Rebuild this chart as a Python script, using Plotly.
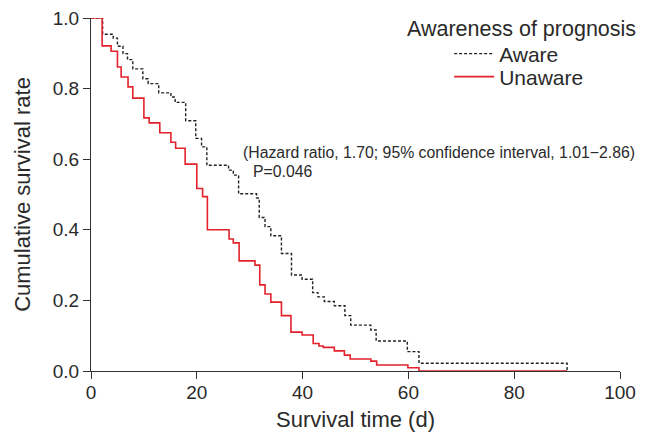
import plotly.graph_objects as go

# Kaplan-Meier step data
aware_t = [0, 2.2, 4.2, 5.0, 6.05, 6.9, 7.9, 9.8, 10.8, 12.8, 15.1, 15.9, 17.9, 19.8, 20.9, 21.9,
           26.0, 26.9, 27.9, 31.3, 31.8, 32.9, 34.0, 36.0, 37.9, 39.9, 41.9, 42.9, 44.1, 46.0,
           48.0, 49.1, 52.9, 53.9, 59.8, 62.0, 90]
aware_s = [1.0, 0.954, 0.943, 0.92, 0.899, 0.882, 0.856, 0.828, 0.814, 0.788, 0.776, 0.761, 0.709,
           0.659, 0.635, 0.583, 0.569, 0.555, 0.502, 0.49, 0.435, 0.409, 0.383, 0.333, 0.272, 0.260,
           0.222, 0.210, 0.197, 0.185, 0.157, 0.130, 0.116, 0.085, 0.055, 0.022, 0.0]

unaware_t = [0, 2.1, 3.8, 5.0, 5.7, 7.0, 7.9, 10.0, 11.0, 13.0, 15.1, 16.0, 17.8, 20.0, 21.1, 22.0,
             26.1, 26.9, 28.0, 31.0, 31.9, 32.9, 34.0, 36.0, 37.8, 39.9, 42.0, 43.1, 43.9, 46.0,
             47.9, 49.0, 52.9, 54.0, 59.9, 62.0, 90]
unaware_s = [1.0, 0.921, 0.906, 0.861, 0.833, 0.805, 0.773, 0.717, 0.703, 0.675, 0.648, 0.631, 0.586,
             0.517, 0.494, 0.40, 0.374, 0.363, 0.312, 0.300, 0.244, 0.218, 0.195, 0.157, 0.110, 0.102,
             0.078, 0.071, 0.067, 0.057, 0.045, 0.034, 0.028, 0.017, 0.009, 0.0, 0.0]

x_ticks = [0, 20, 40, 60, 80, 100]
y_ticks = [0.0, 0.2, 0.4, 0.6, 0.8, 1.0]

FONT = "Liberation Sans, Arial, sans-serif"
TXT = "#2a2a2a"

fig = go.Figure()
fig.add_trace(go.Scatter(x=aware_t, y=aware_s, mode="lines", line_shape="hv", name="Aware",
                         legend="legend",
                         line=dict(color="#222222", width=1.4, dash="3px,2px")))
fig.add_trace(go.Scatter(x=unaware_t, y=unaware_s, mode="lines", line_shape="hv", name="Unaware",
                         legend="legend2",
                         line=dict(color="#e3222b", width=1.6)))

# legend heading
fig.add_annotation(x=0.813, y=0.969, xref="paper", yref="paper", xanchor="center", yanchor="middle",
                   text="Awareness of prognosis", showarrow=False,
                   font=dict(family=FONT, size=21.5, color=TXT))

fig.add_annotation(x=0.284, y=0.620, xref="paper", yref="paper", xanchor="left", yanchor="middle",
                   text="(Hazard ratio, 1.70; 95% confidence interval, 1.01\u22122.86)",
                   showarrow=False, font=dict(family=FONT, size=15.8, color=TXT))
fig.add_annotation(x=0.302, y=0.564, xref="paper", yref="paper", xanchor="left", yanchor="middle",
                   text="P=0.046",
                   showarrow=False, font=dict(family=FONT, size=15.8, color=TXT))

leg_common = dict(xanchor="left", yanchor="middle", bgcolor="rgba(0,0,0,0)",
                  font=dict(family=FONT, size=21, color=TXT), itemwidth=40)

fig.update_layout(
    width=639, height=424,
    margin=dict(l=83, r=27, t=10, b=61, autoexpand=False),
    plot_bgcolor="white", paper_bgcolor="white",
    font=dict(family=FONT, size=16, color=TXT),
    showlegend=True,
    legend=dict(x=0.677, y=0.898, **leg_common),
    legend2=dict(x=0.677, y=0.833, **leg_common),
    xaxis=dict(
        range=[0, 100], tickvals=x_ticks, ticktext=[str(v) for v in x_ticks],
        showline=True, linecolor="#333333", linewidth=1.3,
        ticks="outside", ticklen=7, tickwidth=1.3, tickcolor="#333333",
        showgrid=False, zeroline=False, ticklabeloverflow="allow",
        ticklabelstandoff=-3,
        tickfont=dict(family=FONT, size=19, color=TXT),
        title=dict(text="Survival time (d)", font=dict(family=FONT, size=22, color=TXT), standoff=15),
    ),
    yaxis=dict(
        range=[0, 1.0], tickvals=y_ticks, ticktext=[f"{v:.1f}" for v in y_ticks],
        showline=True, linecolor="#333333", linewidth=1.3,
        ticks="outside", ticklen=7, tickwidth=1.3, tickcolor="#333333",
        showgrid=False, zeroline=False, ticklabeloverflow="allow",
        tickfont=dict(family=FONT, size=19, color=TXT),
        title=dict(text="Cumulative survival rate", font=dict(family=FONT, size=22, color=TXT), standoff=15),
    ),
)

fig.write_html("out.html")
